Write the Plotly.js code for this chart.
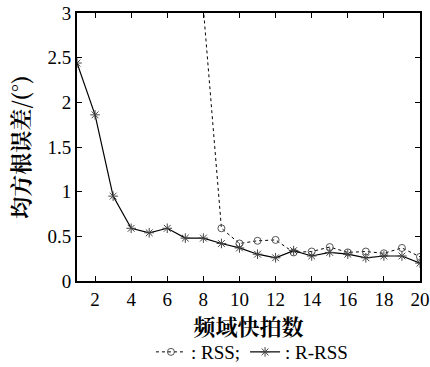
<!DOCTYPE html>
<html><head><meta charset="utf-8">
<script src="https://cdn.plot.ly/plotly-3.0.1.min.js"></script>
<style>html,body{margin:0;padding:0;background:#fff}</style>
</head><body>
<div id="chart" style="width:430px;height:367px"></div>
<script>
const snapshots = [1,2,3,4,5,6,7,8,9,10,11,12,13,14,15,16,17,18,19,20];
const rssValues = [null,null,null,null,null,null,null,3.05,0.59,0.42,0.45,0.46,0.32,0.33,0.38,0.32,0.33,0.31,0.37,0.27];
const rrssValues = [2.44,1.86,0.95,0.59,0.54,0.59,0.48,0.48,0.42,0.37,0.30,0.26,0.34,0.28,0.32,0.30,0.26,0.28,0.28,0.20];
const xTicks = [2,4,6,8,10,12,14,16,18,20];
const yTicks = [0,0.5,1,1.5,2,2.5,3];
const yTickText = ['0','0.5','1','1.5','2','2.5','3'];

const serif = 'Liberation Serif';
const cjk = 'Noto Serif CJK SC';

const traces = [
  {x: snapshots, y: rssValues, name: ': RSS;', mode: 'lines+markers', connectgaps: false,
   line: {color: '#000', width: 1, dash: 'dot'},
   marker: {symbol: 'circle-open', size: 7, color: '#555', line: {width: 1, color: '#555'}}},
  {x: snapshots, y: rrssValues, name: ': R-RSS', mode: 'lines+markers',
   line: {color: '#000', width: 1.2},
   marker: {symbol: 'asterisk-open', size: 8, color: '#444', line: {width: 1, color: '#444'}}}
];

const layout = {
  width: 430, height: 367,
  font: {family: serif, size: 18, color: '#000'},
  margin: {l: 77, r: 10, t: 13, b: 86, autoexpand: false},
  paper_bgcolor: '#fff', plot_bgcolor: '#fff',
  showlegend: true,
  legend: {orientation: 'h', x: 0.51, xanchor: 'center', y: -0.265, yanchor: 'middle',
           font: {family: serif, size: 19, color: '#000'}, traceorder: 'normal', itemwidth: 30},
  xaxis: {range: [1, 20], tickvals: xTicks, ticktext: xTicks.map(String), automargin: false,
          ticks: 'inside', ticklen: 5, tickwidth: 1, tickcolor: '#000',
          showline: true, linecolor: '#000', linewidth: 2, mirror: 'ticks',
          showgrid: false, zeroline: false,
          tickfont: {family: serif, size: 19, color: '#000'},
          title: {text: '频域快拍数', font: {family: cjk, size: 22, color: '#000', weight: 'bold'}, standoff: 11}},
  yaxis: {range: [0, 3], tickvals: yTicks, ticktext: yTickText, automargin: false,
          ticks: 'inside', ticklen: 5, tickwidth: 1, tickcolor: '#000',
          showline: true, linecolor: '#000', linewidth: 2, mirror: 'ticks',
          showgrid: false, zeroline: false,
          tickfont: {family: serif, size: 19, color: '#000'},
          title: {text: '均方根误差/(°)', font: {family: cjk, size: 22, color: '#000', weight: 'bold'}, standoff: 12}}
};

Plotly.newPlot('chart', traces, layout, {displayModeBar: false, staticPlot: true});
</script>
</body></html>
